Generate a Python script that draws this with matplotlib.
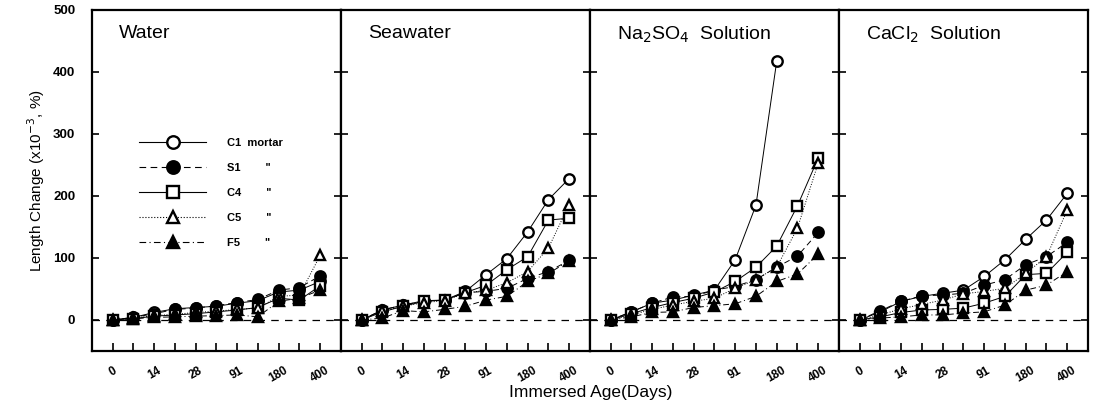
import numpy as np
import matplotlib.pyplot as plt

plt.rcParams['font.family'] = ['Liberation Sans', 'DejaVu Sans']

# categorical age points (11 per series), labels on every other tick
age_idx = np.arange(11)
age_labels = ['0', '', '14', '', '28', '', '91', '', '180', '', '400']

panels = ['Water', 'Seawater', 'Na$_2$SO$_4$  Solution', 'CaCl$_2$  Solution']
series = ['C1', 'S1', 'C4', 'C5', 'F5']
legend_labels = ['C1  mortar', 'S1        "', 'C4        "', 'C5        "', 'F5        "']

# length change (x10^-3 %)
water = {
    'C1': [0, 4, 12, 18, 20, 22, 27, 31, 45, 48, 62],
    'S1': [0, 4, 10, 17, 19, 23, 28, 33, 48, 52, 71],
    'C4': [0, 2, 6, 8, 10, 13, 16, 20, 35, 32, 55],
    'C5': [0, 3, 7, 9, 12, 14, 17, 19, 38, 40, 104],
    'F5': [0, 2, 4, 5, 6, 7, 8, 5, 30, 35, 48],
}
seawater = {
    'C1': [0, 16, 24, 31, 32, 46, 73, 99, 142, 194, 228],
    'S1': [0, 16, 24, 30, 32, 44, 46, 51, 67, 78, 96],
    'C4': [0, 13, 22, 30, 32, 44, 56, 81, 102, 161, 164],
    'C5': [0, 14, 22, 28, 31, 43, 48, 60, 78, 116, 186],
    'F5': [0, 3, 15, 13, 17, 22, 32, 38, 62, 75, 95],
}
na2so4 = {
    'C1': [0, 13, 27, 32, 40, 48, 97, 185, 417, np.nan, np.nan],
    'S1': [0, 13, 27, 37, 38, 48, 54, 65, 85, 103, 141],
    'C4': [0, 10, 20, 28, 35, 45, 62, 85, 119, 184, 261],
    'C5': [0, 8, 17, 24, 30, 35, 51, 65, 85, 148, 253],
    'F5': [0, 5, 12, 13, 20, 23, 26, 38, 62, 74, 106],
}
cacl2 = {
    'C1': [0, 13, 30, 38, 43, 48, 70, 97, 130, 161, 204],
    'S1': [0, 15, 30, 39, 40, 43, 56, 65, 89, 102, 125],
    'C4': [0, 5, 12, 16, 17, 19, 27, 38, 73, 75, 109],
    'C5': [0, 8, 18, 25, 32, 42, 46, 51, 75, 102, 177],
    'F5': [0, 3, 5, 8, 8, 11, 13, 24, 48, 56, 78],
}
data = [water, seawater, na2so4, cacl2]

styles = {
    'C1': dict(marker='o', mfc='white', ls='-'),
    'S1': dict(marker='o', mfc='black', ls=(0, (6, 4))),
    'C4': dict(marker='s', mfc='white', ls='-'),
    'C5': dict(marker='^', mfc='white', ls=':'),
    'F5': dict(marker='^', mfc='black', ls=(0, (6, 3, 1, 3))),
}

fig, axes = plt.subplots(1, 4, figsize=(10.94, 4.09), sharey=True)
fig.subplots_adjust(left=0.084, right=0.9945, top=0.976, bottom=0.142, wspace=0)

for ax, name, d in zip(axes, panels, data):
    ax.axhline(0, color='black', lw=0.9, ls=(0, (6, 5)))
    for s in series:
        st = styles[s]
        ax.plot(age_idx, d[s], color='black', lw=0.7, ls=st['ls'], marker=st['marker'],
                ms=7.5, mfc=st['mfc'], mec='black', mew=1.7)
    ax.set_xlim(-1, 11)
    ax.set_ylim(-50, 500)
    ax.set_yticks([0, 100, 200, 300, 400, 500])
    ax.set_xticks(age_idx)
    ax.set_xticklabels(age_labels, rotation=30, fontsize=8.5, fontweight='bold')
    ax.tick_params(axis='x', direction='in', length=6, width=1.2, pad=10, top=False)
    ax.tick_params(axis='y', direction='in', length=5, width=1.2, left=True, right=True)
    for sp in ax.spines.values():
        sp.set_linewidth(1.6)
    ax.text(0.11, 0.955, name, transform=ax.transAxes, fontsize=14, va='top', ha='left')

axes[0].set_yticklabels(['0', '100', '200', '300', '400', '500'], fontsize=9.5, fontweight='bold')
axes[0].tick_params(axis='y', pad=12)
axes[0].set_ylabel('Length Change (x10$^{-3}$, %)', fontsize=11)

# legend drawn as proxy handles inside the first panel
handles = []
for s in series:
    st = styles[s]
    h, = axes[0].plot([], [], color='black', lw=0.8, ls=st['ls'], marker=st['marker'],
                      ms=9, mfc=st['mfc'], mec='black', mew=1.7)
    handles.append(h)
leg = axes[0].legend(handles, legend_labels, loc='upper left', bbox_to_anchor=(0.19, 0.625),
                     frameon=False, handlelength=6.0, labelspacing=1.35, handletextpad=1.9,
                     borderpad=0, borderaxespad=0, prop={'size': 8, 'weight': 'bold'})

fig.text(0.54, 0.03, 'Immersed Age(Days)', ha='center', fontsize=12.5)

fig.savefig('out.png', dpi=100)
